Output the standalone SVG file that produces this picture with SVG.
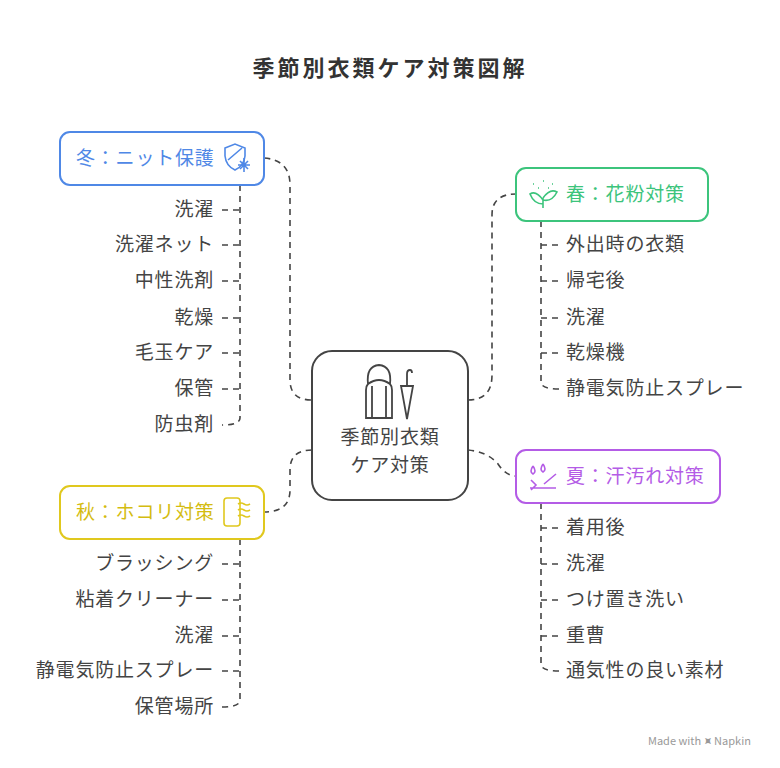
<svg xmlns="http://www.w3.org/2000/svg" width="780" height="768" viewBox="0 0 780 768">
<style>
text{font-family:"Noto Sans CJK JP","Noto Sans",sans-serif}
.t{font-size:19px;letter-spacing:0.8px;fill:#444}
.r{text-anchor:end}
.c{fill:none;stroke:#444;stroke-width:1.6;stroke-dasharray:6 5}
.box{fill:#fff;stroke-width:2}
</style>
<rect width="780" height="768" fill="#fff"/>
<text x="390" y="76" text-anchor="middle" style="font-size:22px;letter-spacing:3px;font-weight:bold;fill:#333">季節別衣類ケア対策図解</text>
<g id="connectors">
<path class="c" d="M264,158 Q290,160 290,185 L290,380 Q290,400 312,400"/>
<path class="c" d="M312,450 Q290,450 290,470 L290,490 Q290,512 264,512"/>
<path class="c" d="M468,400 Q492,400 492,375 L492,215 Q492,194 516,194"/>
<path class="c" d="M468,450 Q488,452 498,464 Q506,476 516,476"/>
<path class="c" d="M240,185 V418 Q240,425 222,425 M222,210 H240 M222,245 H240 M222,281 H240 M222,318 H240 M222,353 H240 M222,389 H240"/>
<path class="c" d="M240,539 V700 Q240,707 222,707 M222,564 H240 M222,600 H240 M222,636 H240 M222,671 H240"/>
<path class="c" d="M541,221 V382 Q541,389 559,389 M541,245 H559 M541,281 H559 M541,318 H559 M541,353 H559"/>
<path class="c" d="M541,503 V664 Q541,671 559,671 M541,528 H559 M541,564 H559 M541,600 H559 M541,636 H559"/>
</g>
<g id="center">
<rect class="box" x="312" y="351" width="156" height="149" rx="20" stroke="#444"/>
<g fill="none" stroke="#444" stroke-width="1.8">
<path d="M368,384 Q366,366 379,365 Q392,366 390,384 Q379,376 368,384 Z"/>
<path d="M368,384 Q366,386 366,390 V418 H392 V390 Q392,386 390,384"/>
<path d="M372,386 V418 M386,386 V418"/>
<path d="M401,386 L413,386 L407,419 Z M407,386 V374 Q407,370 410,370 Q412,370 412,373"/>
</g>
<text class="t" x="390" y="444" text-anchor="middle">季節別衣類</text>
<text class="t" x="390" y="472" text-anchor="middle">ケア対策</text>
</g>
<g id="winter">
<rect class="box" x="60" y="132" width="204" height="53" rx="10" stroke="#4F88E6"/>
<text x="76" y="165" style="font-size:19px;letter-spacing:0.8px;fill:#4F88E6">冬：ニット保護</text>
<g fill="none" stroke="#4F88E6" stroke-width="1.6"><path d="M225,148 L235,144 L245,148 V156 Q244,166 235,170 Q226,166 225,156 Z M228,160 L242,148"/><path d="M244,158 V172 M238,165 H250 M240,161 L248,169 M248,161 L240,169"/></g>
</g>
<g id="spring">
<rect class="box" x="516" y="168" width="192" height="53" rx="10" stroke="#3CC47C"/>
<text x="566" y="201" style="font-size:19px;letter-spacing:0.8px;fill:#3CC47C">春：花粉対策</text>
<g fill="none" stroke="#3CC47C" stroke-width="1.6"><path d="M543,208 V198 M543,200 Q536,190 530,194 Q534,204 543,204 M543,198 Q550,188 557,192 Q552,202 543,200"/><path d="M533,184 h1 M543,181 h1 M552,184 h1 M538,188 h1 M548,188 h1"/></g>
</g>
<g id="summer">
<rect class="box" x="516" y="450" width="204" height="53" rx="10" stroke="#B45CE6"/>
<text x="566" y="483" style="font-size:19px;letter-spacing:0.8px;fill:#B45CE6">夏：汗汚れ対策</text>
<g fill="none" stroke="#B45CE6" stroke-width="1.6"><path d="M533,466 Q529,472 533,474 Q537,472 533,466 M543,464 Q539,470 543,472 Q547,470 543,464"/><path d="M530,488 H556 M531,480 L536,485 L531,490 M544,484 L556,474"/></g>
</g>
<g id="autumn">
<rect class="box" x="60" y="486" width="204" height="53" rx="10" stroke="#E0C81E"/>
<text x="76" y="519" style="font-size:19px;letter-spacing:0.8px;fill:#D4BC10">秋：ホコリ対策</text>
<g fill="none" stroke="#E0C81E" stroke-width="1.6"><rect x="224" y="498" width="16" height="28" rx="3"/><path d="M238,504 q3,-2 6,0 t6,0 M238,510 q3,-2 6,0 t6,0 M238,516 q3,-2 6,0 t6,0"/></g>
</g>
<g id="items">
<text class="t r" x="214" y="216">洗濯</text>
<text class="t r" x="214" y="251">洗濯ネット</text>
<text class="t r" x="214" y="287">中性洗剤</text>
<text class="t r" x="214" y="324">乾燥</text>
<text class="t r" x="214" y="359">毛玉ケア</text>
<text class="t r" x="214" y="395">保管</text>
<text class="t r" x="214" y="431">防虫剤</text>
<text class="t r" x="214" y="570">ブラッシング</text>
<text class="t r" x="214" y="606">粘着クリーナー</text>
<text class="t r" x="214" y="642">洗濯</text>
<text class="t r" x="214" y="677">静電気防止スプレー</text>
<text class="t r" x="214" y="713">保管場所</text>
<text class="t" x="566" y="251">外出時の衣類</text>
<text class="t" x="566" y="287">帰宅後</text>
<text class="t" x="566" y="324">洗濯</text>
<text class="t" x="566" y="359">乾燥機</text>
<text class="t" x="566" y="395">静電気防止スプレー</text>
<text class="t" x="566" y="534">着用後</text>
<text class="t" x="566" y="570">洗濯</text>
<text class="t" x="566" y="606">つけ置き洗い</text>
<text class="t" x="566" y="642">重曹</text>
<text class="t" x="566" y="677">通気性の良い素材</text>
</g>
<text x="648" y="745" style="font-size:11px;fill:#999">Made with ⯍ Napkin</text>
</svg>
